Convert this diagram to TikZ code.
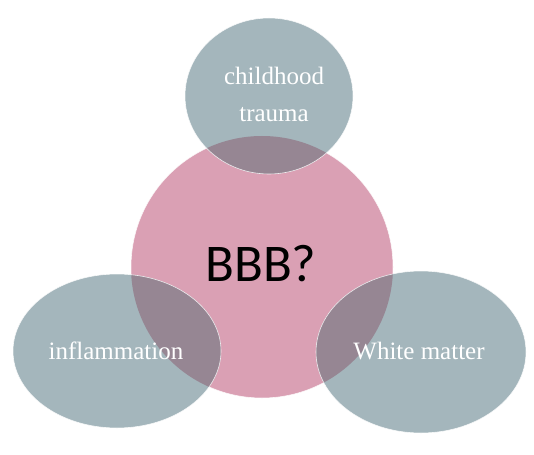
\documentclass[tikz,border=0pt]{standalone}
\usepackage{fontspec}
\setmainfont{Liberation Serif}
\newfontfamily\bbbfont{Carlito}
\definecolor{greyblue}{RGB}{164,182,188}
\definecolor{pinkc}{RGB}{218,160,180}
\definecolor{overlapc}{RGB}{150,134,147}
\begin{document}
\begin{tikzpicture}[x=1pt,y=-1pt,
  blob/.style={fill=greyblue},
  core/.style={fill=pinkc},
  ovl/.style={fill=overlapc},
  rim/.style={draw=white,line width=0.6pt,draw opacity=0.8},
  lbl/.style={text=white,font=\fontsize{25}{37}\selectfont,align=center,inner sep=0pt},
  bigl/.style={text=black,font=\bbbfont\fontsize{53}{60}\selectfont,inner sep=0pt}]
\useasboundingbox (0,0) rectangle (534,454);
\fill[white] (0,0) rectangle (534,454);
% central circle
\fill[core] (262,267) circle [radius=131];
\draw[rim] (262,267) circle [radius=131];
% satellite ellipses
\fill[blob] (269,96) ellipse [x radius=84, y radius=78];
\fill[blob] (117,351) ellipse [x radius=104, y radius=77];
\fill[blob] (421,352) ellipse [x radius=105, y radius=81];
% overlaps
\begin{scope}
  \clip (262,267) circle [radius=131];
  \fill[ovl] (269,96) ellipse [x radius=84, y radius=78];
  \fill[ovl] (117,351) ellipse [x radius=104, y radius=77];
  \fill[ovl] (421,352) ellipse [x radius=105, y radius=81];
\end{scope}
\draw[rim] (269,96) ellipse [x radius=84, y radius=78];
\draw[rim] (117,351) ellipse [x radius=104, y radius=77];
\draw[rim] (421,352) ellipse [x radius=105, y radius=81];
% labels
\node[lbl] (trauma) at (274,94) {childhood\\trauma};
\node[lbl] (infl) at (116,351) {inflammation};
\node[lbl] (wm) at (419,351) {White matter};
\node[bigl] (bbb) at (261,264) {BBB?};
\end{tikzpicture}
\end{document}
